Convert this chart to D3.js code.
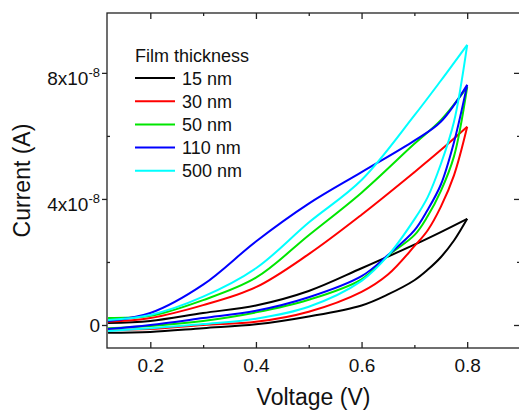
<!DOCTYPE html>
<html>
<head>
<meta charset="utf-8">
<script src="https://cdn.jsdelivr.net/npm/d3@7"></script>
<style>
  body { margin: 0; background: #fff; }
  svg { font-family: "Liberation Sans", Arial, sans-serif; }
</style>
</head>
<body>
<svg id="chart" width="519" height="410"></svg>
<script>
// voltage grids (V) for the two sweep branches
const vForward = [0.12, 0.2, 0.3, 0.4, 0.5, 0.6, 0.65, 0.7, 0.725, 0.75, 0.775, 0.8]
const vReverse = [0.12, 0.2, 0.3, 0.4, 0.5, 0.6, 0.7, 0.75, 0.8]

// currents in units of 1e-8 A
const labels = ["15 nm", "30 nm", "50 nm", "110 nm", "500 nm"]
const colors = ["#000000", "#ff0000", "#00e600", "#0000ff", "#00ffff"]

const fwd15  = [-0.25, -0.22, -0.1, 0.02, 0.27, 0.62, 0.97, 1.42, 1.75, 2.15, 2.68, 3.37]
const fwd30  = [-0.16, -0.13, 0.0, 0.1, 0.42, 1.05, 1.6, 2.5, 3.0, 3.75, 4.75, 6.29]
const fwd50  = [-0.1, -0.03, 0.13, 0.4, 0.8, 1.45, 2.2, 2.85, 3.45, 4.25, 5.35, 7.55]
const fwd110 = [-0.13, 0.0, 0.22, 0.45, 0.88, 1.55, 2.22, 3.0, 3.65, 4.45, 5.8, 7.62]
const fwd500 = [-0.19, -0.1, 0.03, 0.2, 0.58, 1.4, 2.2, 3.35, 4.05, 5.1, 6.45, 8.89]

const rev15  = [0.06, 0.13, 0.38, 0.62, 1.08, 1.8, 2.55, 2.95, 3.37]
const rev30  = [0.1, 0.22, 0.63, 1.2, 2.25, 3.5, 4.85, 5.55, 6.29]
const rev50  = [0.22, 0.29, 0.79, 1.5, 2.85, 4.2, 5.75, 6.5, 7.55]
const rev110 = [0.13, 0.38, 1.28, 2.65, 3.85, 4.85, 5.85, 6.45, 7.62]
const rev500 = [0.16, 0.32, 0.9, 1.8, 3.25, 4.6, 6.65, 7.75, 8.89]

const xMajor = [0.2, 0.4, 0.6, 0.8]
const xMinor = [0.3, 0.5, 0.7]
const yMajor = [0, 4, 8]
const yMinor = [2, 6]

const forward = [fwd15, fwd30, fwd50, fwd110, fwd500]
const reverse = [rev15, rev30, rev50, rev110, rev500]

let svg = d3.select("#chart")

let mLeft = 107, mRight = 520, mTop = 13, mBottom = 348

let x = d3.scaleLinear().domain([0.118, 0.9]).range([mLeft, mRight])
let y = d3.scaleLinear().domain([-0.73, 9.9]).range([mBottom, mTop])

let line = d3.line()
    .x(d => x(d[0]))
    .y(d => y(d[1]))
    .curve(d3.curveCatmullRom.alpha(0.5))

svg.append("clipPath").attr("id", "clip")
    .append("rect").attr("x", mLeft).attr("y", mTop)
    .attr("width", mRight - mLeft).attr("height", mBottom - mTop)

let plot = svg.append("g").attr("clip-path", "url(#clip)")

for (let i = 0; i < labels.length; i++) {
    let f = vForward.map((v, j) => [v, forward[i][j]])
    let r = vReverse.map((v, j) => [v, reverse[i][j]])
    for (let pts of [f, r]) {
        plot.append("path")
            .attr("d", line(pts))
            .attr("fill", "none")
            .attr("stroke", colors[i])
            .attr("stroke-width", 2)
            .attr("stroke-linejoin", "round")
    }
}

// frame
svg.append("rect")
    .attr("x", mLeft).attr("y", mTop)
    .attr("width", mRight - mLeft).attr("height", mBottom - mTop)
    .attr("fill", "none").attr("stroke", "#222").attr("stroke-width", 1.3)

let tickStyle = g => {
    g.select(".domain").remove()
    g.selectAll(".tick line").attr("stroke", "#222").attr("stroke-width", 1.3)
}

// bottom axis, ticks inside
svg.append("g").attr("transform", `translate(0,${mBottom})`)
    .call(d3.axisBottom(x).tickValues(xMajor).tickSize(-6).tickPadding(11).tickFormat(d3.format(".1f")))
    .call(tickStyle)
    .call(g => g.selectAll(".tick text").attr("font-size", 19).attr("fill", "#111")
        .attr("font-family", "Liberation Sans, Arial, sans-serif"))
svg.append("g").attr("transform", `translate(0,${mBottom})`)
    .call(d3.axisBottom(x).tickValues(xMinor).tickSize(-3).tickFormat(""))
    .call(tickStyle)

// top axis, ticks inside
svg.append("g").attr("transform", `translate(0,${mTop})`)
    .call(d3.axisTop(x).tickValues(xMajor).tickSize(-6).tickFormat(""))
    .call(tickStyle)
svg.append("g").attr("transform", `translate(0,${mTop})`)
    .call(d3.axisTop(x).tickValues(xMinor).tickSize(-3).tickFormat(""))
    .call(tickStyle)

// left axis, major ticks out, minor in
let yAx = svg.append("g").attr("transform", `translate(${mLeft},0)`)
    .call(d3.axisLeft(y).tickValues(yMajor).tickSize(5).tickFormat(""))
    .call(tickStyle)
svg.append("g").attr("transform", `translate(${mLeft},0)`)
    .call(d3.axisLeft(y).tickValues(yMinor).tickSize(-3).tickFormat(""))
    .call(tickStyle)

// right axis, ticks inside
svg.append("g").attr("transform", `translate(${mRight},0)`)
    .call(d3.axisRight(y).tickValues(yMajor).tickSize(-6).tickFormat(""))
    .call(tickStyle)
svg.append("g").attr("transform", `translate(${mRight},0)`)
    .call(d3.axisRight(y).tickValues(yMinor).tickSize(-3).tickFormat(""))
    .call(tickStyle)

// y tick labels with exponent
yAx.selectAll(".tick").each(function(d) {
    let t = d3.select(this).append("text")
        .attr("x", -7).attr("text-anchor", "end")
        .attr("font-size", 19).attr("fill", "#111")
    if (d === 0) {
        t.attr("y", 7).text("0")
    } else {
        t.attr("y", 12)
        t.append("tspan").text(d + "x10")
        t.append("tspan").attr("font-size", 13).attr("dy", -8).text("-8")
    }
})

// axis titles
svg.append("text")
    .attr("x", (mLeft + mRight) / 2).attr("y", 405)
    .attr("text-anchor", "middle").attr("font-size", 23).attr("fill", "#111")
    .text("Voltage (V)")

svg.append("text")
    .attr("transform", `translate(30,${(mTop + mBottom) / 2}) rotate(-90)`)
    .attr("text-anchor", "middle").attr("font-size", 23).attr("fill", "#111")
    .text("Current (A)")

// legend
let legend = svg.append("g")
legend.append("text")
    .attr("x", 135).attr("y", 62)
    .attr("font-size", 18).attr("fill", "#111")
    .text("Film thickness")

labels.forEach((lab, i) => {
    let ly = 78 + i * 23.2
    legend.append("line")
        .attr("x1", 135).attr("x2", 175)
        .attr("y1", ly).attr("y2", ly)
        .attr("stroke", colors[i]).attr("stroke-width", 2)
    legend.append("text")
        .attr("x", 182).attr("y", ly + 6.5)
        .attr("font-size", 18).attr("fill", "#111")
        .text(lab)
})
</script>
</body>
</html>
